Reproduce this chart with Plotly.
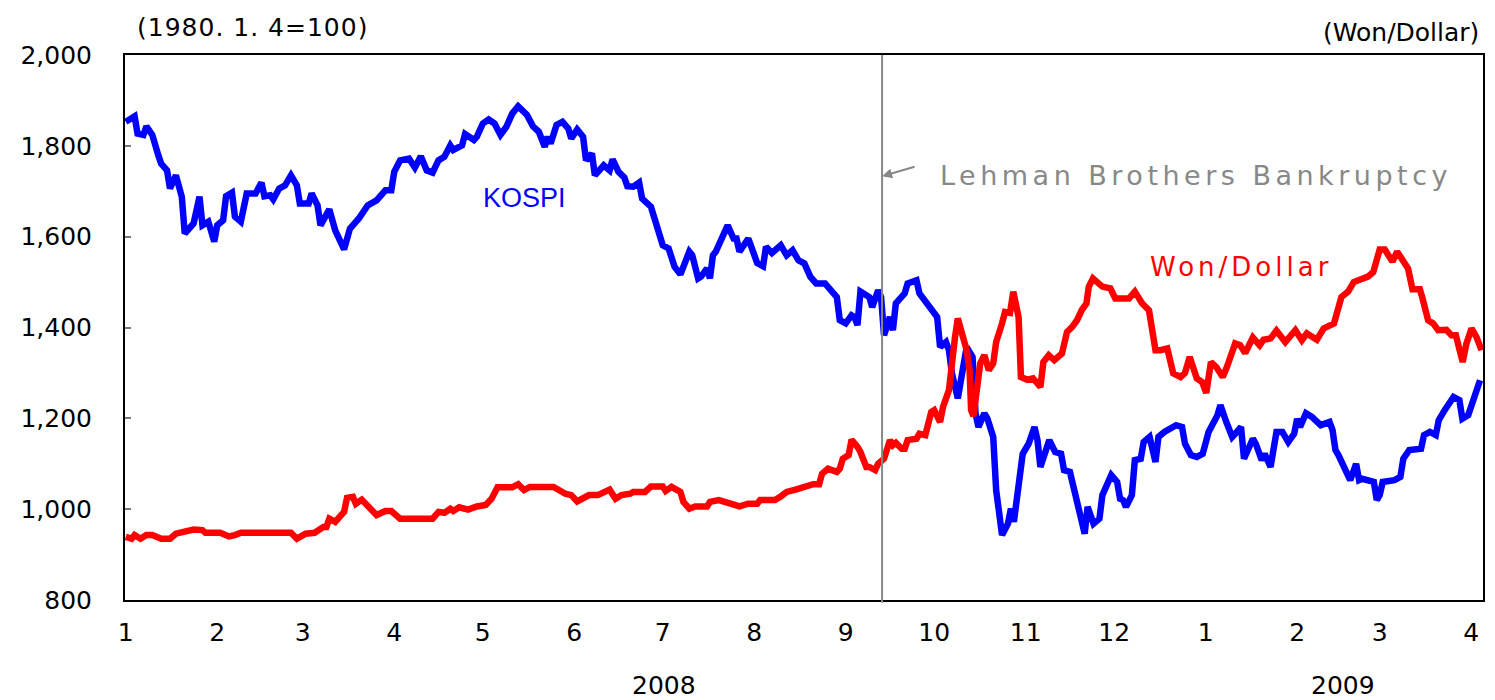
import pandas as pd
import plotly.graph_objects as go

# days counted from 2008-01-01
kospi_day = [0, 3, 4, 6, 7, 9, 11, 12, 14, 15, 17, 19, 20, 23, 25, 26, 28, 30, 31, 33, 34, 36, 37, 39, 41, 44, 46, 47,
             49, 50, 52, 54, 56, 58, 59, 62, 63, 65, 66, 69, 71, 74,
             76, 79, 82, 85, 88, 90, 91, 93, 96, 98, 100, 102, 104, 106, 108, 110, 111, 114, 115, 118, 119, 121, 123,
             125, 127, 129, 131, 133, 136, 138, 140, 142, 143, 144, 146, 148, 150, 151, 153,
             155, 156, 158, 159, 162, 164, 165, 167, 169, 170, 172, 174, 175, 178, 180, 182, 184, 186, 188, 191, 192,
             194, 195, 197, 198, 199, 200, 202, 204, 206, 207, 208, 211, 212, 214, 216, 217, 219, 222, 224, 226, 228, 230,
             232, 234, 237, 239, 241, 242, 244, 246, 247, 248, 249, 251, 252, 253, 255, 256, 257, 259, 260, 261, 264,
             265, 268, 269, 271, 273, 275, 276, 278, 279, 280, 282, 283, 285, 287, 288, 289, 291, 292, 294, 295, 297,
             299, 300, 301, 303, 304, 306, 308, 309,
             310, 313, 315, 317, 318, 320, 321, 322, 323, 325, 326, 328, 330, 331, 334, 336, 337, 338, 339, 341, 342,
             344, 345, 347, 349, 350, 352, 354, 356, 358, 359, 361, 363, 365, 366, 367, 370, 371, 373, 375, 376, 378,
             379, 382, 383, 385, 386, 388,
             390, 392, 394, 396, 397, 398, 400, 402, 405, 408, 409, 410, 411, 413, 415, 417, 418, 419, 422, 423, 424,
             425, 426, 430, 432, 433, 435, 437, 439, 440, 442, 444, 445, 447, 450, 452, 453, 455, 457, 459]
kospi = [1853, 1865, 1827, 1824, 1843, 1824, 1780, 1761, 1746, 1706, 1735, 1688, 1607, 1629, 1688, 1625, 1633, 1589,
         1625, 1636, 1689, 1697, 1644, 1633, 1695, 1695, 1719, 1689, 1691, 1682, 1706, 1713, 1735, 1713, 1673, 1673,
         1695, 1669, 1625, 1660, 1614, 1572,
         1618, 1640, 1669, 1680, 1702, 1702, 1743, 1768, 1772, 1752, 1777, 1746, 1741, 1768, 1776, 1801, 1791, 1801,
         1826, 1813, 1820, 1849, 1858, 1849, 1824, 1842, 1871, 1887, 1868, 1843, 1831, 1798, 1820, 1805, 1846, 1853,
         1838, 1816, 1836,
         1820, 1768, 1783, 1735, 1757, 1746, 1770, 1743, 1730, 1711, 1710, 1719, 1684, 1666, 1622, 1581, 1574, 1534,
         1517, 1567, 1559, 1508, 1512, 1530, 1508, 1559, 1567, 1596, 1625, 1596, 1596, 1567, 1596, 1578, 1542, 1535,
         1578, 1564, 1581, 1559, 1570, 1548, 1541,
         1512, 1497, 1497, 1479, 1467, 1416, 1409, 1427, 1423, 1405, 1479, 1471, 1467, 1445, 1482, 1467, 1383, 1423,
         1394, 1453, 1475, 1497, 1504, 1475, 1457, 1442, 1423, 1357, 1368, 1350, 1299, 1244, 1277, 1357, 1335, 1211,
         1181, 1211, 1200, 1159, 1042, 943, 968, 1001, 972, 1093, 1122, 1144, 1181, 1152,
         1093, 1152, 1126, 1122, 1086, 1082, 1053, 1020, 990, 946, 1005, 968, 979, 1031, 1075, 1060, 1023, 1020, 1005,
         1031, 1108, 1111, 1148, 1159, 1104, 1159, 1170, 1177, 1185, 1181, 1144, 1119, 1115, 1122, 1152, 1170, 1207,
         1229, 1192, 1159, 1166, 1181, 1111, 1155, 1144, 1108, 1122, 1093,
         1170, 1170, 1148, 1166, 1199, 1181, 1211, 1203, 1185, 1192, 1174, 1130, 1119, 1089, 1064, 1100, 1064, 1067,
         1064, 1060, 1020, 1031, 1060, 1064, 1071, 1111, 1130, 1130, 1133, 1163, 1170, 1163, 1196, 1218, 1247, 1240,
         1199, 1207, 1251, 1284]

won_day = [0, 2, 3, 5, 7, 9, 12, 15, 17, 21, 23, 26, 27, 32, 35, 37, 39, 56, 58, 61, 64, 67, 68, 69, 71, 73, 74, 75,
           77, 78, 80, 85, 88, 90, 93, 104, 106, 108, 110, 111, 113, 116, 119, 122, 124, 126, 131, 133, 135, 137, 145,
           149, 151,
           153, 157, 160, 164, 166, 168, 171, 172, 176, 178, 182, 183, 185, 188, 189, 191, 193, 197, 198, 201, 205, 208,
           211, 214, 215, 220, 222, 224, 227, 230,
           233, 235, 236, 238, 241, 242, 243, 245, 246, 248, 249, 251, 252, 254, 255, 257, 259, 260, 261, 263, 264, 265,
           268, 269, 271, 273, 274, 276, 277, 279, 280, 281, 282, 284, 285, 286, 286.5, 287.3, 288.5, 289.6, 291, 292.5,
           294, 295, 297, 298, 299.7, 300.8, 302.6, 303.4, 305.6, 307.5, 310, 311,
           312.8, 314.7, 317.3, 319, 320.7, 322.4, 324, 325.6, 326.4, 327.8, 331, 333.7, 335.4, 340, 342, 344.5, 346.8,
           349, 350.7, 353, 355, 357.5, 359, 360.6, 363, 364.8, 366.2, 367.8, 369.6, 371.8, 373.2, 376, 377.7, 379.4,
           382, 384.3, 385.6, 388,
           390, 393, 396.4, 398.6, 400.3, 403.7, 406, 409.5, 412, 414.3, 416.2, 418.2, 421, 422.8, 425, 426.7, 429.3,
           430.9, 432.7, 434.6, 436.1, 438.6, 439.5, 441.4, 443.1, 444.8, 447.6, 449.3, 450.8, 453.1, 454.4, 456.1,
           457.8, 459.5]
won = [939, 935, 943, 935, 943, 943, 935, 935, 946, 950, 955, 954, 948, 948, 940, 943, 948, 948, 935, 946, 948, 961,
       961, 979, 972, 987, 994, 1025,
       1027, 1012, 1021, 987, 996, 996, 979, 979, 994, 992, 1001, 996, 1004, 999, 1006, 1009, 1023, 1048, 1048, 1055,
       1042, 1049, 1049, 1034, 1031,
       1017, 1031, 1031, 1043, 1023, 1031, 1034, 1038, 1038, 1050, 1050, 1040, 1049, 1038, 1016, 1001, 1006, 1006,
       1016, 1020, 1012, 1006, 1012, 1012, 1020, 1020, 1028, 1038, 1043, 1050,
       1055, 1055, 1078, 1089, 1082, 1089, 1111, 1119, 1153, 1137, 1126, 1093, 1093, 1086, 1100, 1111, 1152, 1141,
       1146, 1133, 1133, 1152, 1155, 1166, 1163, 1214, 1218, 1192, 1225, 1262, 1335, 1376, 1420, 1376, 1350, 1306,
       1218, 1205, 1258, 1321, 1339, 1306, 1321, 1368, 1409, 1434, 1432, 1479, 1423, 1291, 1285, 1288, 1269, 1324,
       1339, 1328, 1343, 1390, 1401, 1416, 1438, 1453, 1490, 1508, 1490, 1486, 1464, 1464, 1479, 1453, 1438, 1350,
       1350, 1354, 1299, 1291, 1300, 1335, 1288, 1280, 1256, 1324, 1313, 1291, 1313, 1365, 1361, 1344, 1378, 1361,
       1373, 1376,
       1393, 1368, 1394, 1372, 1387, 1373, 1398, 1409, 1467, 1479, 1500, 1504, 1512, 1522, 1572, 1572, 1545, 1567,
       1548, 1530, 1484, 1484, 1464, 1416, 1409, 1394, 1395, 1383, 1383, 1324, 1365, 1398, 1379, 1350]

month_ticks = pd.date_range("2008-01-01", "2009-04-01", freq="MS")
month_labels = [str(d.month) for d in month_ticks]

start = pd.Timestamp("2008-01-01")
kospi_x = start + pd.to_timedelta(kospi_day, unit="D")
won_x = start + pd.to_timedelta(won_day, unit="D")
lehman = "2008-09-13 08:00"

font = "DejaVu Sans, Arial, sans-serif"

fig = go.Figure()
fig.add_trace(go.Scatter(x=kospi_x, y=kospi, mode="lines", name="KOSPI",
                         line=dict(color="#0000FF", width=6.5)))
fig.add_trace(go.Scatter(x=won_x, y=won, mode="lines", name="Won/Dollar",
                         line=dict(color="#FF0000", width=6.5)))

# Lehman line
fig.add_shape(type="line", xref="x", yref="paper", x0=lehman, x1=lehman, y0=-0.005, y1=1,
              line=dict(color="#888888", width=2))

fig.add_annotation(x=lehman, y=1733, ax=34, ay=-10, text="", showarrow=True,
                   arrowhead=2, arrowsize=1, arrowwidth=2, arrowcolor="#888888")
fig.add_annotation(x=0.599, y=0.778, xref="paper", yref="paper", xanchor="left", yanchor="middle",
                   text='<span style="letter-spacing:4.5px">Lehman Brothers Bankruptcy</span>', showarrow=False,
                   font=dict(family=font, size=27, color="#888888"))
fig.add_annotation(x=0.294, y=0.7376, xref="paper", yref="paper", xanchor="center", yanchor="middle",
                   text="KOSPI", showarrow=False,
                   font=dict(family="Liberation Sans, Arial", size=27, color="#0000FF"))
fig.add_annotation(x=0.822, y=0.611, xref="paper", yref="paper", xanchor="center", yanchor="middle",
                   text='<span style="letter-spacing:4px">Won/Dollar</span>', showarrow=False,
                   font=dict(family=font, size=26, color="#FF0000"))

fig.add_annotation(x=0.0074, y=1.051, xref="paper", yref="paper", xanchor="left", yanchor="middle",
                   text='<span style="letter-spacing:1px">(1980. 1. 4=100)</span>', showarrow=False,
                   font=dict(family=font, size=25, color="black"))
fig.add_annotation(x=0.9985, y=1.042, xref="paper", yref="paper", xanchor="right", yanchor="middle",
                   text="(Won/Dollar)", showarrow=False, font=dict(family=font, size=25, color="black"))
fig.add_annotation(x=0.397, y=-0.156, xref="paper", yref="paper", xanchor="center", yanchor="middle",
                   text="2008", showarrow=False, font=dict(family=font, size=25, color="black"))
fig.add_annotation(x=0.897, y=-0.156, xref="paper", yref="paper", xanchor="center", yanchor="middle",
                   text="2009", showarrow=False, font=dict(family=font, size=25, color="black"))

# page body has an 8px margin, so the figure is 8px smaller each way
fig.update_layout(
    width=1487, height=692,
    margin=dict(l=117, r=10, t=47, b=100),
    plot_bgcolor="white", paper_bgcolor="white",
    showlegend=False,
    font=dict(family=font, size=25, color="black"),
)
fig.update_xaxes(
    range=["2007-12-31 18:00", "2009-04-05"],
    tickvals=month_ticks, ticktext=month_labels, ticks="",
    showgrid=False, zeroline=False,
    showline=True, linecolor="black", linewidth=2, mirror=True,
    tickfont=dict(family=font, size=25), ticklabelstandoff=9,
)
fig.update_yaxes(
    range=[800, 2000], dtick=200, tickformat=",d",
    ticks="inside", ticklen=6, tickcolor="#777777", tickwidth=2,
    showgrid=False, zeroline=False,
    showline=True, linecolor="black", linewidth=2, mirror=True,
    tickfont=dict(family=font, size=25), ticklabelstandoff=26,
)

fig.write_html("out.html")
